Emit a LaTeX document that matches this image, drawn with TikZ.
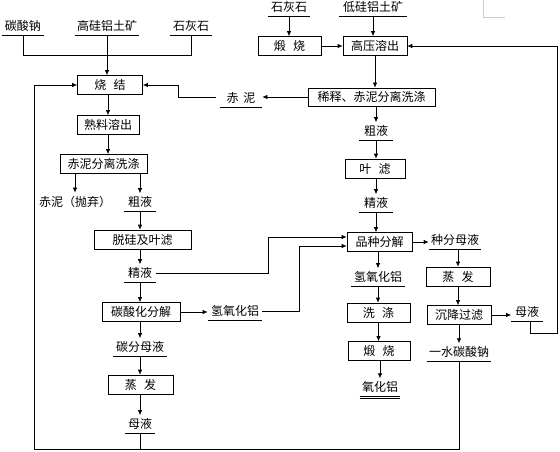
\documentclass[tikz,border=0pt]{standalone}
\usepackage{fontspec}
\setmainfont{Noto Sans CJK SC}
\usetikzlibrary{arrows.meta}

\begin{document}
\begin{tikzpicture}[x=1pt, y=-1pt, line width=0.7pt, >={Latex[length=5pt,width=4.5pt]},
  font=\fontsize{12}{14}\selectfont,
  box/.style={draw, minimum height=19pt, inner sep=0pt},
  lbl/.style={anchor=south, inner xsep=2pt, inner ysep=3pt}]
\useasboundingbox (0,0) rectangle (560,452);

% left column: sintering
\node[lbl, minimum width=42] (na) at (23,35) {碳酸钠};
\node[lbl, minimum width=63] (gg) at (107,35) {高硅铝土矿};
\node[lbl, minimum width=42] (sh1) at (191,35) {石灰石};
\node[box, minimum width=65] (sj) at (110,85) {烧\hspace{0.6em}结};
\node[box, minimum width=62] (sl) at (108,125) {熟料溶出};
\node[box, minimum width=87] (cf) at (103.5,164) {赤泥分离洗涤};
\node (pq) at (75,202) {赤泥（抛弃）};
\node[lbl, minimum width=32] (cy1) at (140,211) {粗液};
\node[box, minimum width=97] (tg) at (142.5,239.5) {脱硅及叶滤};
\node[lbl, minimum width=32] (jy1) at (140,282) {精液};
\node[box, minimum width=78] (ts) at (141,312) {碳酸化分解};
\node[lbl, minimum width=54] (hy1) at (235,320) {氢氧化铝};
\node[lbl, minimum width=54] (tf) at (140,356) {碳分母液};
\node[box, minimum width=65] (zf1) at (140.5,384.5) {蒸\hspace{0.6em}发};
\node[lbl, minimum width=30] (my1) at (140,433) {母液};

% right column: high pressure leaching
\node[lbl, minimum width=42] (sh2) at (289,16) {石灰石};
\node[lbl, minimum width=68] (dg) at (373,16) {低硅铝土矿};
\node[box, minimum width=63] (ds1) at (289.5,46) {煅\hspace{0.6em}烧};
\node[box, minimum width=64] (gy) at (375,46) {高压溶出};
\node[box, minimum width=127, minimum height=18pt] (xs) at (371.5,97) {稀释、赤泥分离洗涤};
\node[lbl, minimum width=42] (hn) at (241,107) {赤\hspace{0.4em}泥};
\node[lbl, minimum width=33] (cy2) at (376,140) {粗液};
\node[box, minimum width=60] (yl) at (375,168.5) {叶\hspace{0.6em}滤};
\node[lbl, minimum width=33] (jy2) at (376,212) {精液};
\node[box, minimum width=65] (pz) at (379.5,242) {品种分解};
\node[lbl, minimum width=54] (hy2) at (378,286) {氢氧化铝};
\node[box, minimum width=63] (xd) at (378.5,312.5) {洗\hspace{0.6em}涤};
\node[box, minimum width=62] (ds2) at (379,351) {煅\hspace{0.6em}烧};
\node[lbl, minimum width=36] (yh) at (380,396) {氧化铝};
\node[lbl, minimum width=52] (zm) at (455,249) {种分母液};
\node[box, minimum width=64] (zf2) at (458,276.5) {蒸\hspace{0.6em}发};
\node[box, minimum width=64] (cj) at (459,315) {沉降过滤};
\node[lbl, minimum width=31] (my2) at (527,321) {母液};
\node[lbl, minimum width=64] (ys) at (459,361) {一水碳酸钠};

\coordinate (bl) at (34,449);
\coordinate (rt) at (557,0);

% underlines
\foreach \n in {na,gg,sh1,cy1,jy1,hy1,tf,my1,sh2,dg,hn,cy2,jy2,hy2,yh,zm,my2,ys}
  \draw (\n.south west) -- (\n.south east);
\draw ([yshift=-2.5pt]yh.south west) -- ([yshift=-2.5pt]yh.south east);

% left flow
\draw (na.south) -- ++(0,20) -| (sh1.south);
\draw[->] (gg.south) -- (gg.south |- sj.north);
\draw[->] (sl.north |- sj.south) -- (sl.north);
\draw[->] (sl.south) -- (sl.south |- cf.north);
\draw[->] (pq.north |- cf.south) -- (pq.north);
\draw[->] (cy1.north |- cf.south) -- (cy1.north);
\draw[->] (cy1.south) -- (cy1.south |- tg.north);
\draw[->] (jy1.north |- tg.south) -- (jy1.north);
\draw[->] (jy1.south) -- (jy1.south |- ts.north);
\draw[->] (tf.north |- ts.south) -- (tf.north);
\draw[->] (tf.south) -- (tf.south |- zf1.north);
\draw[->] (my1.north |- zf1.south) -- (my1.north);
\draw[->] (ts.east) -- (ts.east -| hy1.west);
\draw (my1.south) -- (my1.south |- bl);

% right flow
\draw[->] (sh2.south) -- (sh2.south |- ds1.north);
\draw[->] (dg.south) -- (dg.south |- gy.north);
\draw[->] (ds1.east) -- (gy.west);
\draw[->] (gy.south) -- (gy.south |- xs.north);
\draw[->] (xs.west) -- (xs.west -| hn.east);
\draw[->] ([xshift=-4pt]hn.west |- xs.west) -| ([xshift=35pt]sj.east) -- (sj.east);
\draw[->] (cy2.north |- xs.south) -- (cy2.north);
\draw[->] (cy2.south) -- (cy2.south |- yl.north);
\draw[->] (jy2.north |- yl.south) -- (jy2.north);
\draw[->] (jy2.south) -- (jy2.south |- pz.north);
\draw[->] (hy2.north |- pz.south) -- (hy2.north);
\draw[->] (hy2.south) -- (hy2.south |- xd.north);
\draw[->] (xd.south) -- (xd.south |- ds2.north);
\draw[->] (yh.north |- ds2.south) -- (yh.north);
\draw[->] (pz.east) -- (pz.east -| zm.west);
\draw[->] (zf2.north |- zm.south) -- (zf2.north);
\draw[->] (zf2.south) -- (zf2.south |- cj.north);
\draw[->] (cj.south) -- (cj.south |- ys.north);
\draw[->] (cj.east) -- (cj.east -| my2.west);
\draw[->] ([xshift=3pt]my2.south) -- ++(0,12) -| (rt |- gy.east) -- (gy.east);

% returns to seed precipitation
\draw[->] (jy1.east) -| ([xshift=-78pt,yshift=5pt]pz.west) -- ([yshift=5pt]pz.west);
\draw[->] (hy1.east) -| ([xshift=-47pt,yshift=-4pt]pz.west) -- ([yshift=-4pt]pz.west);

% return to sintering
\draw[->] (ys.south) -- (ys.south |- bl) -- (bl) |- (sj.west);

\draw[gray!40, line width=0.5pt] (483,0) -- (483,17) -- (505,17);
\end{tikzpicture}
\end{document}
